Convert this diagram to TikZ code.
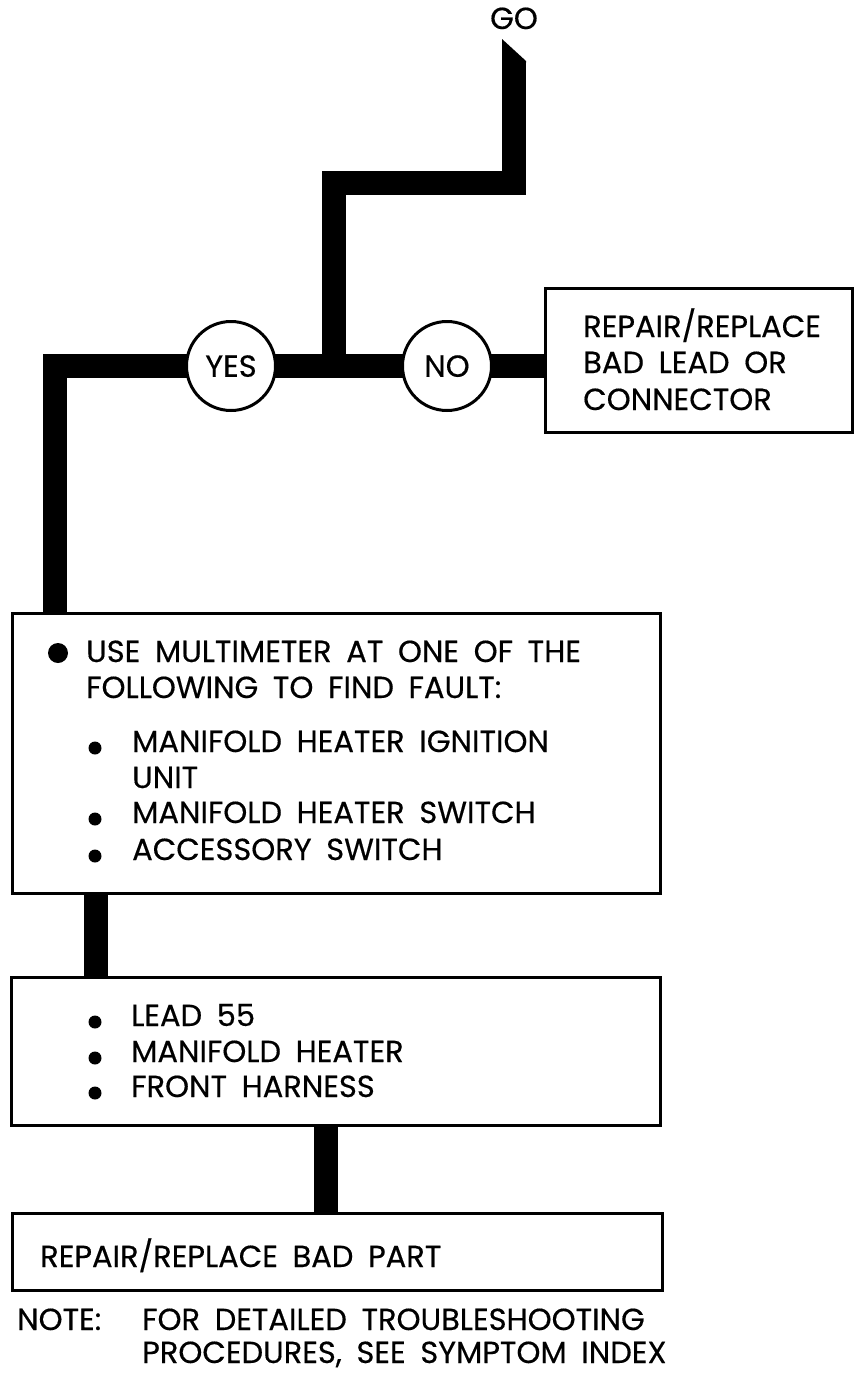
\documentclass[tikz,border=0pt]{standalone}
\usepackage{fontspec}
\setmainfont{Poppins}[WordSpace=1.8, FakeBold=0.4]
\usetikzlibrary{backgrounds}
\newcommand{\dtxt}{\fontsize{30.5}{36}\selectfont}
\begin{document}
\begin{tikzpicture}[x=1pt,y=-1pt,
  wire/.style={line width=24pt, line join=miter, line cap=butt},
  box/.style={draw, line width=3pt, fill=white, inner sep=0pt},
  ring/.style={circle, draw, line width=3pt, fill=white, minimum size=89pt, inner sep=0pt, font=\dtxt, text depth=0pt},
  txt/.style={anchor=base west, inner sep=0pt, font=\dtxt},
  dot/.style={fill=black},
]
\useasboundingbox (0,0) rectangle (855,1379);

% boxes
\node[box, minimum width=307pt, minimum height=144pt] (repair) at (698.5,360) {};
\node[box, minimum width=648pt, minimum height=280pt] (multi) at (336,753) {};
\node[box, minimum width=649pt, minimum height=148pt] (lead) at (336,1051) {};
\node[box, minimum width=650pt, minimum height=77pt] (part) at (337,1251.5) {};

% decision circles
\node[ring] (yes) at (231,366) {YES};
\node[ring] (no) at (447,366) {NO};

% start label
\node[font=\dtxt, inner sep=0pt, anchor=base] (go) at (514,29) {GO};

\coordinate (tip) at (514,62);
\coordinate (bend) at (424,183);
\coordinate (j) at (334,366);

\begin{scope}[on background layer]
  \fill[white] (0,0) rectangle (855,1379);
  \draw[wire] (j) |- (bend) -| (tip);
  \fill ([xshift=-12pt,yshift=-0.5pt]tip) -- ([xshift=-12pt,yshift=23pt]tip) -- ([xshift=12pt,yshift=1pt]tip) -- ([xshift=12pt,yshift=-0.5pt]tip) -- cycle;
  \draw[wire] ([xshift=44pt]multi.north west) |- (repair.west |- j);
  \draw[wire] ([xshift=85pt]multi.south west) -- ([xshift=85pt]multi.south west |- lead.north);
  \draw[wire] ([xshift=316pt]lead.south west) -- ([xshift=316pt]lead.south west |- part.north);
\end{scope}

% repair box text
\node[txt] (r1) at (583,337) {REPAIR/REPLACE};
\node[txt] (r2) at (583,373) {BAD LEAD OR};
\node[txt] (r3) at (583,410) {CONNECTOR};

% multimeter box text
\fill[dot] (58,653) circle (10pt);
\node[txt] (m1) at (86,662) {USE MULTIMETER AT ONE OF THE};
\node[txt] (m2) at (86,698) {FOLLOWING TO FIND FAULT:};
\fill[dot] (95,748) circle (6.5pt);
\node[txt] (m3) at (132,752) {MANIFOLD HEATER IGNITION};
\node[txt] (m4) at (132,788) {UNIT};
\fill[dot] (95,819) circle (6.5pt);
\node[txt] (m5) at (132,823) {MANIFOLD HEATER SWITCH};
\fill[dot] (95,856) circle (6.5pt);
\node[txt] (m6) at (132,860) {ACCESSORY SWITCH};

% lead box text
\fill[dot] (95,1022) circle (6.5pt);
\node[txt] (l1) at (131,1026) {LEAD 55};
\fill[dot] (95,1058) circle (6.5pt);
\node[txt] (l2) at (131,1062) {MANIFOLD HEATER};
\fill[dot] (95,1093) circle (6.5pt);
\node[txt] (l3) at (131,1097) {FRONT HARNESS};

% final box text
\node[txt] (p1) at (40,1267) {REPAIR/REPLACE BAD PART};

% note
\node[txt] (n0) at (17,1330) {NOTE:};
\node[txt] (n1) at (142,1330) {FOR DETAILED TROUBLESHOOTING};
\node[txt] (n2) at (142,1363) {PROCEDURES, SEE SYMPTOM INDEX};
\end{tikzpicture}
\end{document}
